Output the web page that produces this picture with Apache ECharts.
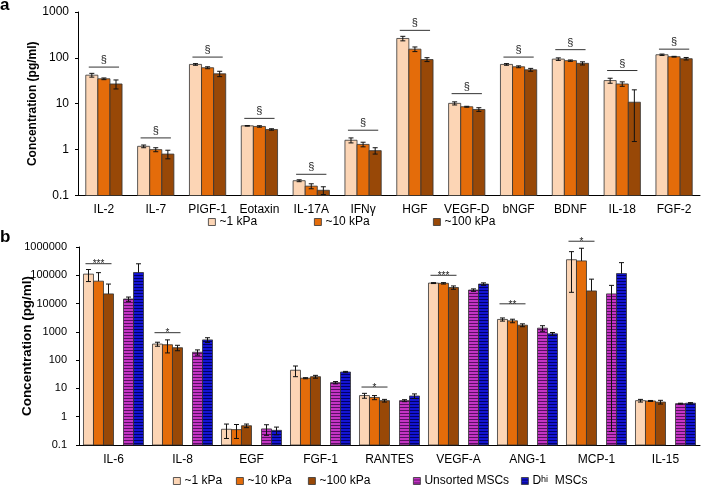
<!DOCTYPE html>
<html>
<head>
<meta charset="utf-8">
<script src="https://cdn.jsdelivr.net/npm/echarts@6/dist/echarts.min.js"></script>
<style>
  html, body { margin: 0; padding: 0; background: #fff; }
  #chart { width: 709px; height: 486px; }
</style>
</head>
<body>
<div id="chart"></div>
<script>
// panel a
var catsA = ['IL-2', 'IL-7', 'PIGF-1', 'Eotaxin', 'IL-17A', 'IFNγ', 'HGF', 'VEGF-D', 'bNGF', 'BDNF', 'IL-18', 'FGF-2'];
var a1k = [42, 1.18, 72, 3.3, 0.21, 1.6, 265, 10.2, 72, 94, 32, 117];
var a1kErr = [4, 0.08, 3, 0.05, 0.01, 0.2, 30, 0.8, 3, 6, 4, 4];
var a10k = [35, 1.0, 61, 3.2, 0.16, 1.3, 155, 8.6, 64, 87, 27, 106];
var a10kErr = [1.5, 0.1, 3, 0.12, 0.02, 0.15, 18, 0.2, 3, 3, 3, 2];
var a100k = [27, 0.8, 45, 2.75, 0.13, 0.95, 92, 7.5, 55, 76, 10.8, 96];
var a100kErr = [6, 0.17, 6, 0.1, 0.025, 0.15, 9, 0.7, 4, 6, 9.3, 6];
var sigA = [63, 1.8, 104, 4.8, 0.29, 2.65, 398, 16.6, 104, 151, 53, 155];

// panel b
var catsB = ['IL-6', 'IL-8', 'EGF', 'FGF-1', 'RANTES', 'VEGF-A', 'ANG-1', 'MCP-1', 'IL-15'];
var b1k = [110000, 370, 0.36, 44, 5.6, 53000, 2750, 355000, 3.7];
var b1kErr = [50000, 60, 0.19, 18, 1.1, 2000, 350, 330000, 0.4];
var b10k = [62000, 350, 0.35, 23, 4.8, 52000, 2450, 323000, 3.6];
var b10kErr = [62000, 170, 0.18, 1, 0.8, 3000, 350, 580000, 0.15];
var b100k = [22000, 275, 0.48, 26, 3.7, 37000, 1720, 28000, 3.3];
var b100kErr = [27000, 60, 0.07, 3, 0.4, 5000, 200, 45000, 0.5];
var bUns = [14500, 190, 0.37, 16, 3.7, 30000, 1350, 22000, 2.9];
var bUnsErr = [2500, 40, 0.15, 1.5, 0.3, 3000, 300, 21999.7, 0.1];
var bDhi = [125000, 520, 0.33, 38, 5.4, 49000, 850, 115000, 3.0];
var bDhiErr = [130000, 100, 0.1, 2, 1, 5000, 100, 165000, 0.15];
var sigBCats = [0, 1, 4, 5, 6, 7];
var sigBVals = [257000, 935, 11.2, 100000, 9800, 1600000];
var sigBText = ['***', '*', '*', '***', '**', '*'];

var FONT = 'Liberation Sans';
var c1k = '#FCD5B5', c10k = '#E46C0A', c100k = '#984807';

function stripes(light, dark) {
  var cv = document.createElement('canvas');
  cv.width = 4; cv.height = 3;
  var ctx = cv.getContext('2d');
  ctx.fillStyle = light; ctx.fillRect(0, 0, 4, 3);
  ctx.fillStyle = dark; ctx.fillRect(0, 2, 4, 1);
  return { image: cv, repeat: 'repeat' };
}
var patUns = stripes('#C434C4', '#5A0F62');
var patDhi = stripes('#1414D2', '#000066');

// bar + error bar, drawn from the axis minimum through the axis scales
function barItem(slot, nSlots, gap, errs, fill, minVal) {
  return function (params, api) {
    var i = api.value(0), v = api.value(1);
    var band = api.coord([1, v])[0] - api.coord([0, v])[0];
    var bw = band * (1 - gap) / nSlots;
    var cx = api.coord([i, v])[0] + (slot - (nSlots - 1) / 2) * bw;
    var top = api.coord([i, v])[1];
    var base = api.coord([i, minVal])[1];
    var e = errs[params.dataIndex];
    var hi = api.coord([i, v + e])[1];
    var hasLo = v - e > 0;
    var lo = hasLo ? api.coord([i, Math.max(v - e, minVal)])[1] : top;
    var cap = 2.5;
    var ls = { stroke: '#111', lineWidth: 1 };
    var kids = [
      { type: 'rect', shape: { x: cx - bw / 2, y: top, width: bw, height: base - top },
        style: { fill: fill, stroke: '#333', lineWidth: 0.8 } },
      { type: 'line', shape: { x1: cx, y1: hi, x2: cx, y2: lo }, style: ls },
      { type: 'line', shape: { x1: cx - cap, y1: hi, x2: cx + cap, y2: hi }, style: ls }
    ];
    if (hasLo) {
      kids.push({ type: 'line', shape: { x1: cx - cap, y1: lo, x2: cx + cap, y2: lo }, style: ls });
    }
    return { type: 'group', children: kids };
  };
}

function sigItem(nSlots, gap, texts, inset, font, dy, vAlign) {
  return function (params, api) {
    var i = api.value(0), v = api.value(1);
    var band = api.coord([1, v])[0] - api.coord([0, v])[0];
    var bw = band * (1 - gap) / nSlots;
    var cx = api.coord([i, v])[0];
    var y = api.coord([i, v])[1];
    var x1 = cx - (nSlots / 2) * bw + inset;
    var x2 = cx + (3 - nSlots / 2) * bw - inset;
    return { type: 'group', children: [
      { type: 'line', shape: { x1: x1, y1: y, x2: x2, y2: y }, style: { stroke: '#333', lineWidth: 1 } },
      { type: 'text', style: { x: (x1 + x2) / 2, y: y + dy, text: texts[params.dataIndex],
        align: 'center', verticalAlign: vAlign, font: font, fill: '#222' } }
    ] };
  };
}

function pairs(arr) { return arr.map(function (v, i) { return [i, v]; }); }

function logLabel(v) { return String(Number(v.toPrecision(3))); }

function yAx(grid, max, gap, labelSize, nameSize, margin, splitN) {
  return {
    type: 'log', gridIndex: grid, logBase: 10, min: 0.1, max: max, splitNumber: splitN,
    axisLine: { show: true, lineStyle: { color: '#000', width: 1 } },
    axisTick: { show: true, length: 3, lineStyle: { color: '#000' } },
    splitLine: { show: false }, minorTick: { show: false },
    axisLabel: { formatter: logLabel, fontSize: labelSize, color: '#000', margin: margin, fontFamily: FONT },
    name: 'Concentration (pg/ml)', nameLocation: 'middle', nameGap: gap, nameMoveOverlap: false,
    nameTextStyle: { fontWeight: 'bold', fontSize: nameSize, color: '#000', fontFamily: FONT }
  };
}

function xAx(grid, cats, margin) {
  return {
    type: 'category', gridIndex: grid, data: cats,
    axisLine: { lineStyle: { color: '#000', width: 1 } },
    axisTick: { length: 4, interval: 0, lineStyle: { color: '#000' } },
    axisLabel: { interval: 0, fontSize: 12, color: '#000', margin: margin, fontFamily: FONT }
  };
}

function legendAt(name, left, top, color, extra) {
  var l = {
    left: left, top: top, padding: 0, itemWidth: 7, itemHeight: 7, itemGap: 0,
    selectedMode: false, icon: 'rect',
    textStyle: { fontSize: 12, color: '#000', fontFamily: FONT, padding: [0, 0, 0, -1] },
    data: [{ name: name, itemStyle: { color: color, borderColor: '#333', borderWidth: 0.8 } }]
  };
  if (extra) { for (var k in extra) l[k] = extra[k]; }
  return l;
}

var GAP_A = 0.3, GAP_B = 0.13;

var chart = echarts.init(document.getElementById('chart'), null, { renderer: 'canvas' });
chart.setOption({
  animation: false,
  textStyle: { fontFamily: FONT },
  grid: [
    { left: 78, right: 9, top: 12, bottom: 290.5, containLabel: false, outerBoundsMode: 'none' },
    { left: 79, right: 9, top: 247, bottom: 41, containLabel: false, outerBoundsMode: 'none' }
  ],
  xAxis: [xAx(0, catsA, 8), xAx(1, catsB, 9)],
  yAxis: [yAx(0, 1000, 39, 12, 12, 9, 4), yAx(1, 1000000, 45, 11, 13.5, 12, 7)],
  legend: [
    legendAt('a ~1 kPa', 208, 216, c1k, { formatter: function () { return '~1 kPa'; } }),
    legendAt('a ~10 kPa', 314, 216, c10k, { formatter: function () { return '~10 kPa'; } }),
    legendAt('a ~100 kPa', 433, 216, c100k, { formatter: function () { return '~100 kPa'; } }),
    legendAt('~1 kPa', 173, 475, c1k),
    legendAt('~10 kPa', 236, 475, c10k),
    legendAt('~100 kPa', 308, 475, c100k),
    legendAt('Unsorted MSCs', 413, 475, patUns),
    legendAt('Dhi MSCs', 521, 475, patDhi, {
      formatter: function () { return '{n|D}{s|hi}{n|  MSCs}'; },
      textStyle: { fontSize: 12, color: '#000', fontFamily: FONT, padding: [0, 0, 0, -1],
        rich: { n: { fontSize: 12, fontFamily: FONT, color: '#000' },
                s: { fontSize: 9, fontFamily: FONT, color: '#000', verticalAlign: 'top', lineHeight: 9 } } }
    })
  ],
  graphic: [
    { type: 'text', left: 0, top: -3, style: { text: 'a', font: 'bold 17px Liberation Sans', fill: '#000' } },
    { type: 'text', left: 0, top: 229, style: { text: 'b', font: 'bold 17px Liberation Sans', fill: '#000' } }
  ],
  series: [
    { type: 'custom', name: 'a ~1 kPa', xAxisIndex: 0, yAxisIndex: 0, itemStyle: { color: c1k },
      data: pairs(a1k), renderItem: barItem(0, 3, GAP_A, a1kErr, c1k, 0.1) },
    { type: 'custom', name: 'a ~10 kPa', xAxisIndex: 0, yAxisIndex: 0, itemStyle: { color: c10k },
      data: pairs(a10k), renderItem: barItem(1, 3, GAP_A, a10kErr, c10k, 0.1) },
    { type: 'custom', name: 'a ~100 kPa', xAxisIndex: 0, yAxisIndex: 0, itemStyle: { color: c100k },
      data: pairs(a100k), renderItem: barItem(2, 3, GAP_A, a100kErr, c100k, 0.1) },
    { type: 'custom', name: 'sigA', xAxisIndex: 0, yAxisIndex: 0, clip: false,
      data: pairs(sigA), renderItem: sigItem(3, GAP_A, sigA.map(function () { return '§'; }), 3, '11px Liberation Sans', -1.5, 'bottom') },

    { type: 'custom', name: '~1 kPa', xAxisIndex: 1, yAxisIndex: 1, itemStyle: { color: c1k },
      data: pairs(b1k), renderItem: barItem(0, 6, GAP_B, b1kErr, c1k, 0.1) },
    { type: 'custom', name: '~10 kPa', xAxisIndex: 1, yAxisIndex: 1, itemStyle: { color: c10k },
      data: pairs(b10k), renderItem: barItem(1, 6, GAP_B, b10kErr, c10k, 0.1) },
    { type: 'custom', name: '~100 kPa', xAxisIndex: 1, yAxisIndex: 1, itemStyle: { color: c100k },
      data: pairs(b100k), renderItem: barItem(2, 6, GAP_B, b100kErr, c100k, 0.1) },
    { type: 'custom', name: 'Unsorted MSCs', xAxisIndex: 1, yAxisIndex: 1, itemStyle: { color: '#B030B0' },
      data: pairs(bUns), renderItem: barItem(4, 6, GAP_B, bUnsErr, patUns, 0.1) },
    { type: 'custom', name: 'Dhi MSCs', xAxisIndex: 1, yAxisIndex: 1, itemStyle: { color: '#1414D2' },
      data: pairs(bDhi), renderItem: barItem(5, 6, GAP_B, bDhiErr, patDhi, 0.1) },
    { type: 'custom', name: 'sigB', xAxisIndex: 1, yAxisIndex: 1, clip: false,
      data: sigBCats.map(function (c, k) { return [c, sigBVals[k]]; }),
      renderItem: sigItem(6, GAP_B, sigBText, 2, '10px Liberation Sans', 1, 'middle') }
  ]
});
</script>
</body>
</html>
